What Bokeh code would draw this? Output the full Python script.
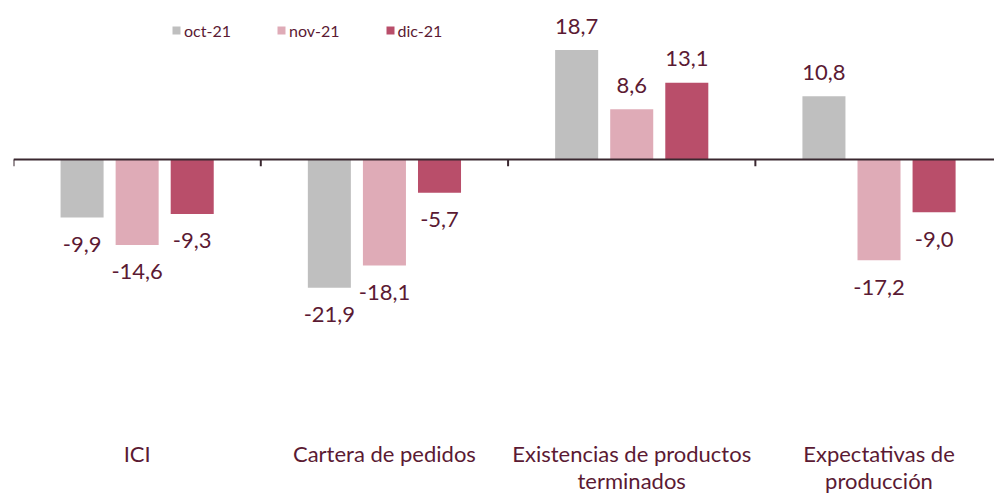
from bokeh.plotting import figure
from bokeh.models import (ColumnDataSource, Range1d, Span, LabelSet,
                          Legend, LegendItem)
from bokeh.core.properties import value
from bokeh.embed import file_html
from bokeh.resources import INLINE

categories = ["ICI", "Cartera de pedidos", "Existencias de productos\nterminados",
              "Expectativas de\nproducción"]
series_names = ["oct-21", "nov-21", "dic-21"]
oct_21 = [-9.9, -21.9, 18.7, 10.8]
nov_21 = [-14.6, -18.1, 8.6, -17.2]
dic_21 = [-9.3, -5.7, 13.1, -9.0]
series_values = [oct_21, nov_21, dic_21]

colors = ["#bfbfbf", "#dfabb7", "#b94e6a"]
text_color = "#5b1a33"
font = "Lato"

W, H = 994, 493
y0, y1 = -57.09, 27.18
p = figure(width=W, height=H, output_backend="svg", toolbar_location=None,
           x_range=Range1d(0, 3.967), y_range=Range1d(y0, y1),
           min_border_left=13, min_border_right=0, min_border_top=0, min_border_bottom=0)
p.outline_line_color = None
p.grid.visible = False
p.xaxis.visible = False
p.yaxis.visible = False
p.background_fill_color = "white"

offsets = [-0.2227, 0.0, 0.2227]
bar_w = 0.174
legend_items = []
lx, ly, lt, lyo = [], [], [], []
for s, (name, vals, col) in enumerate(zip(series_names, series_values, colors)):
    xs = [i + 0.5 + offsets[s] for i in range(len(categories))]
    src = ColumnDataSource(dict(x=xs, top=vals))
    r = p.vbar(x="x", top="top", bottom=0, width=bar_w, source=src,
               fill_color=col, line_color=None)
    legend_items.append(LegendItem(label=name, renderers=[r]))
    for x, v in zip(xs, vals):
        lx.append(x)
        ly.append(v)
        lt.append(f"{v:.1f}".replace(".", ","))
        lyo.append(24 if v >= 0 else -27)

# zero line + category boundary ticks
p.add_layout(Span(location=0, dimension="width", line_color="#3a2830", line_width=2))
bounds = list(range(len(categories)))
p.segment(x0=bounds, y0=[0] * len(bounds), x1=bounds, y1=[-1.15] * len(bounds),
          line_color="#3a2830", line_width=2)

lab_src = ColumnDataSource(dict(x=lx, y=ly, text=lt, yo=lyo))
p.add_layout(LabelSet(x="x", y="y", text="text", y_offset="yo", source=lab_src,
                      text_align="center", text_baseline="middle",
                      text_font=value(font), text_font_size="22px", text_color=text_color))

# category labels along the bottom, one entry per line (centred lines)
cx, cy, ct, cyo = [], [], [], []
for i, c in enumerate(categories):
    for j, line in enumerate(c.split("\n")):
        cx.append(i + 0.5)
        cy.append(y0)
        ct.append(line)
        cyo.append(40 - 27 * j)
cat_src = ColumnDataSource(dict(x=cx, y=cy, text=ct, yo=cyo))
p.add_layout(LabelSet(x="x", y="y", text="text", y_offset="yo", source=cat_src,
                      text_align="center", text_baseline="middle",
                      text_font=value(font), text_font_size="22px", text_color=text_color))

legend = Legend(items=legend_items, location=(158, 453), orientation="horizontal",
                padding=0, margin=0, spacing=45, glyph_width=10, glyph_height=10,
                label_height=20, label_standoff=3, label_text_font=font,
                label_text_font_size="16px",
                label_text_color=text_color, border_line_color=None,
                background_fill_alpha=0)
p.add_layout(legend)

open("out.html", "w").write(file_html(p, INLINE))
